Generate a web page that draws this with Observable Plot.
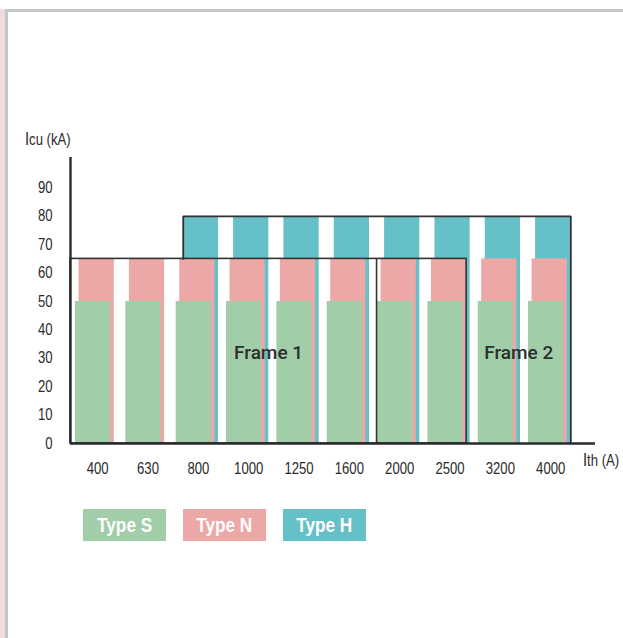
<!DOCTYPE html>
<html><head><meta charset="utf-8">
<script src="https://cdn.jsdelivr.net/npm/d3@7"></script>
<script src="https://cdn.jsdelivr.net/npm/@observablehq/plot@0.6"></script>
<style>
body{margin:0;background:#fff;}
#wrap{position:relative;width:623px;height:638px;overflow:hidden;background:#fff;}
#pink{position:absolute;left:0;top:9px;width:5px;height:629px;background:#f0dcdc;}
#gl{position:absolute;left:5px;top:9px;width:3px;height:629px;background:#c3c7c5;}
#gt{position:absolute;left:5px;top:9px;width:618px;height:3px;background:#c3c7c5;}
#chart{position:absolute;left:0;top:0;}
#legend{position:absolute;left:83px;top:509px;display:flex;gap:17px;}
.lg{width:83px;height:32px;color:#fff;font:bold 21px "Liberation Sans",Arial,sans-serif;display:flex;align-items:center;justify-content:center;}
.lg span{display:inline-block;transform:scaleX(0.82);white-space:nowrap;}
</style></head>
<body>
<div id="wrap">
  <div id="chart"></div>
  <div id="legend"></div>
  <div id="pink"></div><div id="gl"></div><div id="gt"></div>
</div>
<script>
const categories = ["400","630","800","1000","1250","1600","2000","2500","3200","4000"];
const typeS = [50,50,50,50,50,50,50,50,50,50];
const typeN = [65,65,65,65,65,65,65,65,65,65];
const typeH = [null,null,80,80,80,80,80,80,80,80];
const yTicks = [0,10,20,30,40,50,60,70,80,90];
const seriesNames = ["Type S","Type N","Type H"];
const seriesColors = ["#a1cda8","#eca8a6","#66c0c7"];
const frameNames = ["Frame 1","Frame 2"];
const frame1Span = ["400","2500"];
const frame2Span = ["2000","4000"];
const yTitle = ["I","cu (kA)"];
const xTitle = ["I","th (A)"];

const rows = categories.map((c,i)=>({i, c, s:typeS[i], n:typeN[i], h:typeH[i]}));
const xMin = -0.1, xMax = 10.33, yMax = 100.7;
const W = 0.7, offN = 0.07, offH = 0.14;
const hRows = rows.filter(d=>d.h!=null);
const hFirst = hRows[0].i, hLast = hRows[hRows.length-1].i;
const f1End = categories.indexOf(frame1Span[1]) + offN + W;
const f2Start = categories.indexOf(frame2Span[0]) - 0.02;
const hStart = hFirst + offH, hEnd = hLast + offH + W;
const nMax = d3.max(typeN), hMax = d3.max(typeH);
const hOutline = [[hStart, nMax],[hStart, hMax],[hEnd, hMax],[hEnd, 0]];
const frameLabels = [
  {t: frameNames[0], x: (xMin + f1End)/2},
  {t: frameNames[1], x: (f1End + hEnd)/2}
];
const font = '"Liberation Sans",Arial,sans-serif';
const ink = "#2b2b2b";

const chart = Plot.plot({
  width: 623, height: 495,
  marginLeft: 70, marginRight: 28, marginTop: 157, marginBottom: 52,
  style: {fontFamily: font, fontSize: "16px", color: ink, background: "transparent", overflow: "visible"},
  x: {type: "linear", domain: [xMin, xMax], axis: null},
  y: {domain: [0, yMax], axis: null},
  marks: [
    Plot.rect(hRows, {x1: d=>d.i+offH, x2: d=>d.i+offH+W, y1: d=>0, y2: "h", fill: seriesColors[2]}),
    Plot.rect(rows, {x1: d=>d.i+offN, x2: d=>d.i+offN+W, y1: d=>0, y2: "n", fill: seriesColors[1]}),
    Plot.rect(rows, {x1: d=>d.i, x2: d=>d.i+W, y1: d=>0, y2: "s", fill: seriesColors[0]}),
    Plot.line(hOutline, {x: d=>d[0], y: d=>d[1], stroke: "#333", strokeWidth: 1.8, strokeLinejoin: "miter"}),
    Plot.rect([0], {x1: d=>xMin, x2: d=>f1End, y1: d=>0, y2: d=>nMax, fill: "none", stroke: "#333", strokeWidth: 1.6}),
    Plot.ruleX([f2Start], {y1: 0, y2: nMax, stroke: "#333", strokeWidth: 1.6}),
    Plot.ruleX([xMin], {y1: 0, y2: yMax, stroke: "#2a2a2a", strokeWidth: 2.4}),
    Plot.ruleY([0], {x1: xMin, x2: xMax, stroke: "#2a2a2a", strokeWidth: 2.4}),
    Plot.text(yTicks, {x: d=>xMin, y: d=>d, text: d=>String(d), textAnchor: "end", dx: -18, fill: ink, fontSize: 16}),
    Plot.text(rows, {x: d=>d.i+0.44, y: d=>0, text: "c", dy: 25, fill: ink, fontSize: 16}),
    Plot.text(frameLabels, {x: "x", y: d=>32, text: "t", fill: "#2e2e2e", fontSize: 19, fontWeight: 500, fontFamily: "Roboto, sans-serif"})
  ]
});
document.getElementById("chart").appendChild(chart);

const svgEl = chart.tagName.toLowerCase()==="svg" ? chart : chart.querySelector("svg");
const svg = d3.select(svgEl);
// narrow the condensed-looking labels
svg.selectAll("text").each(function(){
  if (this.textContent.startsWith("Frame")) return;
  const t = this.getAttribute("transform");
  if (t) this.setAttribute("transform", t + " scale(0.82,1)");
});
const xs = chart.scale("x"), ys = chart.scale("y");
function title(parts, x, y){
  const t = svg.append("text").attr("transform", `translate(${x},${y}) scale(0.82,1)`)
    .attr("text-anchor", "start").attr("fill", ink).attr("font-family", font);
  t.append("tspan").attr("font-size", 18).text(parts[0]);
  t.append("tspan").attr("font-size", 16).text(parts[1]);
}
title(yTitle, xs.apply(xMin) - 45, ys.apply(yMax) - 12);
title(xTitle, xs.apply(xMax) - 12, ys.apply(0) + 23);

const lg = document.getElementById("legend");
seriesNames.forEach((n,k)=>{
  const d = document.createElement("div");
  d.className = "lg"; d.style.background = seriesColors[k];
  const s = document.createElement("span"); s.textContent = n; d.appendChild(s);
  lg.appendChild(d);
});
</script>
</body></html>
